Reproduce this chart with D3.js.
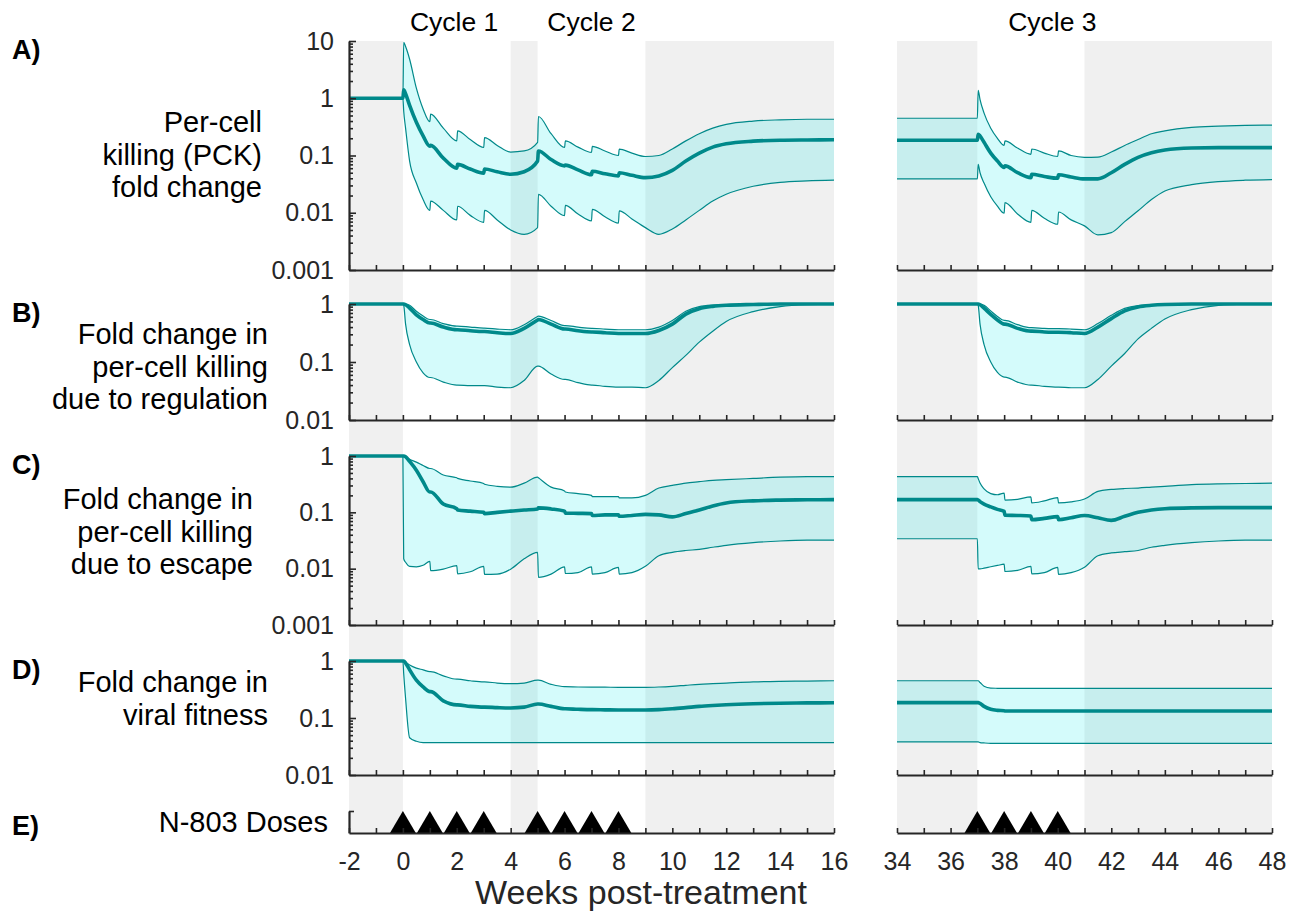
<!DOCTYPE html>
<html>
<head>
<meta charset="utf-8">
<title>Per-cell killing fold change</title>
<script src="https://d3js.org/d3.v7.min.js"></script>
<style>
  body { margin: 0; background: #fff; }
  text { font-family: "Liberation Sans", Arial, sans-serif; }
</style>
</head>
<body>
<div id="chart"></div>
<script>
// time grids (weeks post-treatment); the 0.03 steps mark dose jumps
const weeksL = [-2, 0, 0.03, 0.1, 0.25, 0.5, 0.75, 1, 1.03, 1.5, 2, 2.03, 2.5, 3, 3.03, 3.5, 4, 4.5, 5, 5.03,
  5.5, 6, 6.03, 6.5, 7, 7.03, 7.5, 8, 8.03, 8.5, 9, 9.5, 10, 10.5, 11, 11.5, 12, 13, 14, 15, 16];
const weeksR = [34, 37, 37.03, 37.1, 37.25, 37.5, 37.75, 38, 38.03, 38.5, 39, 39.03, 39.5, 40, 40.03, 40.5,
  41, 41.5, 42, 42.5, 43, 43.5, 44, 45, 46, 47, 48];

// A) per-cell killing fold change
const pckMedL = [1, 1, 1.4, 1.2, 0.75, 0.38, 0.22, 0.145, 0.15, 0.09, 0.06, 0.07, 0.058, 0.049, 0.058, 0.052, 0.047, 0.052, 0.08, 0.12,
  0.085, 0.066, 0.068, 0.056, 0.046, 0.053, 0.048, 0.044, 0.05, 0.045, 0.041, 0.044, 0.055, 0.08, 0.11, 0.14, 0.16, 0.178, 0.185, 0.187, 0.188];
const pckHiL = [1, 1, 9.5, 8, 4.8, 1.5, 0.65, 0.39, 0.53, 0.3, 0.18, 0.27, 0.19, 0.138, 0.206, 0.15, 0.115, 0.12, 0.17, 0.48,
  0.24, 0.138, 0.18, 0.14, 0.113, 0.144, 0.12, 0.1, 0.129, 0.11, 0.096, 0.1, 0.13, 0.18, 0.24, 0.3, 0.35, 0.4, 0.42, 0.43, 0.43];
const pckLoL = [1, 1, 0.6, 0.3, 0.08, 0.033, 0.017, 0.011, 0.016, 0.011, 0.0075, 0.013, 0.009, 0.0068, 0.011, 0.0075, 0.005, 0.0042, 0.0055, 0.021,
  0.013, 0.0089, 0.0135, 0.0095, 0.0072, 0.0115, 0.0085, 0.0066, 0.0108, 0.0078, 0.0055, 0.0042, 0.0052, 0.0075, 0.011, 0.016, 0.021, 0.029, 0.034, 0.036, 0.037];
const pckMedR = [0.185, 0.185, 0.235, 0.22, 0.17, 0.11, 0.08, 0.062, 0.066, 0.05, 0.041, 0.047, 0.043, 0.04, 0.046, 0.042,
  0.039, 0.039, 0.05, 0.07, 0.093, 0.112, 0.125, 0.135, 0.137, 0.137, 0.137];
const pckHiR = [0.447, 0.447, 1.38, 0.95, 0.55, 0.3, 0.2, 0.15, 0.18, 0.135, 0.105, 0.13, 0.11, 0.096, 0.12, 0.1,
  0.093, 0.094, 0.115, 0.15, 0.19, 0.24, 0.27, 0.31, 0.325, 0.335, 0.34];
const pckLoR = [0.039, 0.039, 0.07, 0.05, 0.033, 0.019, 0.013, 0.0098, 0.015, 0.0095, 0.0068, 0.011, 0.008, 0.0063, 0.0103, 0.0075,
  0.0059, 0.0041, 0.0045, 0.007, 0.0108, 0.017, 0.024, 0.031, 0.035, 0.037, 0.038];

// B) fold change in per-cell killing due to regulation
const regMedL = [1, 1, 1, 0.97, 0.85, 0.65, 0.54, 0.47, 0.47, 0.4, 0.36, 0.36, 0.345, 0.335, 0.335, 0.32, 0.31, 0.38, 0.53, 0.54,
  0.45, 0.37, 0.37, 0.345, 0.33, 0.33, 0.32, 0.31, 0.31, 0.31, 0.31, 0.35, 0.45, 0.67, 0.83, 0.91, 0.95, 0.98, 1, 1, 1];
const regHiL = [1, 1, 1, 1, 0.95, 0.75, 0.62, 0.54, 0.54, 0.46, 0.415, 0.415, 0.4, 0.385, 0.385, 0.37, 0.36, 0.44, 0.61, 0.62,
  0.52, 0.425, 0.425, 0.4, 0.38, 0.38, 0.37, 0.36, 0.36, 0.36, 0.36, 0.4, 0.52, 0.75, 0.9, 0.96, 0.98, 0.99, 1, 1, 1];
const regLoL = [1, 1, 0.95, 0.45, 0.2, 0.1, 0.065, 0.054, 0.054, 0.045, 0.04, 0.04, 0.039, 0.039, 0.039, 0.037, 0.036, 0.048, 0.085, 0.085,
  0.062, 0.05, 0.05, 0.044, 0.04, 0.04, 0.038, 0.037, 0.037, 0.037, 0.036, 0.048, 0.08, 0.13, 0.22, 0.34, 0.5, 0.74, 0.9, 0.97, 0.99];
const regMedR = [1, 1, 1, 0.97, 0.85, 0.66, 0.53, 0.45, 0.45, 0.38, 0.34, 0.34, 0.33, 0.325, 0.325, 0.32,
  0.31, 0.4, 0.56, 0.76, 0.89, 0.95, 0.98, 1, 1, 1, 1];
const regHiR = [1, 1, 1, 1, 0.95, 0.76, 0.61, 0.52, 0.52, 0.44, 0.39, 0.39, 0.38, 0.375, 0.375, 0.37,
  0.36, 0.46, 0.64, 0.84, 0.94, 0.97, 0.99, 1, 1, 1, 1];
const regLoR = [1, 1, 0.95, 0.45, 0.2, 0.1, 0.066, 0.055, 0.055, 0.045, 0.04, 0.04, 0.038, 0.037, 0.037, 0.036,
  0.036, 0.05, 0.085, 0.14, 0.25, 0.38, 0.55, 0.8, 0.95, 0.99, 1];

// C) fold change in per-cell killing due to escape
const escMedL = [1, 1, 1, 0.97, 0.8, 0.56, 0.35, 0.23, 0.23, 0.14, 0.116, 0.11, 0.105, 0.1, 0.095, 0.1, 0.105, 0.11, 0.115, 0.12,
  0.115, 0.105, 0.097, 0.096, 0.095, 0.088, 0.09, 0.09, 0.085, 0.088, 0.092, 0.09, 0.083, 0.095, 0.11, 0.13, 0.147, 0.16, 0.165, 0.167, 0.168];
const escHiL = [1, 1, 1, 0.95, 0.87, 0.78, 0.68, 0.6, 0.6, 0.46, 0.41, 0.4, 0.36, 0.325, 0.315, 0.29, 0.28, 0.33, 0.42, 0.41,
  0.28, 0.24, 0.23, 0.215, 0.2, 0.19, 0.19, 0.19, 0.18, 0.18, 0.2, 0.27, 0.3, 0.33, 0.35, 0.37, 0.38, 0.4, 0.42, 0.43, 0.43];
const escLoL = [1, 1, 0.015, 0.013, 0.011, 0.0108, 0.0115, 0.0135, 0.0092, 0.0098, 0.0113, 0.0081, 0.0088, 0.011, 0.0079, 0.008, 0.0098, 0.015, 0.0195, 0.007,
  0.008, 0.0108, 0.0082, 0.0085, 0.0108, 0.008, 0.0085, 0.0105, 0.008, 0.0085, 0.011, 0.017, 0.0195, 0.021, 0.022, 0.024, 0.026, 0.029, 0.031, 0.032, 0.032];
const escMedR = [0.168, 0.168, 0.165, 0.155, 0.14, 0.125, 0.113, 0.104, 0.089, 0.088, 0.086, 0.074, 0.078, 0.084, 0.074, 0.08,
  0.088, 0.08, 0.072, 0.085, 0.1, 0.11, 0.116, 0.12, 0.121, 0.121, 0.121];
const escHiR = [0.43, 0.43, 0.4, 0.33, 0.26, 0.215, 0.205, 0.22, 0.165, 0.17, 0.188, 0.147, 0.16, 0.183, 0.147, 0.153,
  0.172, 0.235, 0.255, 0.265, 0.27, 0.28, 0.29, 0.31, 0.32, 0.325, 0.33];
const escLoR = [0.034, 0.034, 0.0099, 0.0099, 0.0102, 0.0108, 0.0114, 0.012, 0.0089, 0.0093, 0.011, 0.0081, 0.0085, 0.0105, 0.0079, 0.0085,
  0.0106, 0.017, 0.019, 0.02, 0.021, 0.024, 0.026, 0.029, 0.031, 0.032, 0.032];

// D) fold change in viral fitness
const fitMedL = [1, 1, 1, 0.92, 0.7, 0.46, 0.35, 0.29, 0.29, 0.2, 0.17, 0.17, 0.16, 0.155, 0.155, 0.152, 0.15, 0.155, 0.176, 0.176,
  0.16, 0.145, 0.145, 0.142, 0.14, 0.14, 0.139, 0.138, 0.138, 0.138, 0.138, 0.14, 0.145, 0.152, 0.16, 0.166, 0.171, 0.178, 0.182, 0.184, 0.185];
const fitHiL = [1, 1, 1, 0.95, 0.85, 0.75, 0.7, 0.65, 0.65, 0.55, 0.48, 0.48, 0.45, 0.43, 0.43, 0.41, 0.4, 0.41, 0.46, 0.46,
  0.39, 0.355, 0.355, 0.35, 0.348, 0.348, 0.347, 0.345, 0.345, 0.345, 0.345, 0.35, 0.36, 0.375, 0.39, 0.4, 0.41, 0.43, 0.44, 0.445, 0.45];
const fitLoL = [1, 1, 0.6, 0.22, 0.045, 0.039, 0.037, 0.037, 0.037, 0.037, 0.037, 0.037, 0.037, 0.037, 0.037, 0.037, 0.037, 0.037, 0.037, 0.037,
  0.037, 0.037, 0.037, 0.037, 0.037, 0.037, 0.037, 0.037, 0.037, 0.037, 0.037, 0.037, 0.037, 0.037, 0.037, 0.037, 0.037, 0.037, 0.037, 0.037, 0.037];
const fitMedR = [0.186, 0.186, 0.186, 0.18, 0.16, 0.142, 0.136, 0.134, 0.133, 0.133, 0.133, 0.133, 0.133, 0.133, 0.133, 0.133,
  0.133, 0.133, 0.133, 0.133, 0.133, 0.133, 0.133, 0.133, 0.133, 0.133, 0.133];
const fitHiR = [0.45, 0.45, 0.45, 0.42, 0.36, 0.335, 0.332, 0.33, 0.33, 0.33, 0.33, 0.33, 0.33, 0.33, 0.33, 0.33,
  0.33, 0.33, 0.33, 0.33, 0.33, 0.33, 0.33, 0.33, 0.33, 0.33, 0.33];
const fitLoR = [0.038, 0.038, 0.038, 0.037, 0.0365, 0.036, 0.036, 0.036, 0.036, 0.036, 0.036, 0.036, 0.036, 0.036, 0.036, 0.036,
  0.036, 0.036, 0.036, 0.036, 0.036, 0.036, 0.036, 0.036, 0.036, 0.036, 0.036];

// E) N-803 doses and the off-treatment (shaded) periods
const dosesL = [0, 1, 2, 3, 5, 6, 7, 8];
const dosesR = [37, 38, 39, 40];
const shadeL = [[-2, 0], [4, 5], [9, 16]];
const shadeR = [[34, 37], [41, 48]];
const cycles = [{name: "Cycle 1", week: 1.9}, {name: "Cycle 2", week: 7}, {name: "Cycle 3", week: 39.8}];

const ticksA = [0.001, 0.01, 0.1, 1, 10];
const ticksB = [0.01, 0.1, 1];
const ticksC = [0.001, 0.01, 0.1, 1];
const ticksD = [0.01, 0.1, 1];
const xTicksL = d3.range(-2, 17);
const xTicksR = d3.range(34, 49);

const W = 1307, H = 911;
const teal = "#00898a", axisCol = "#262626";
const yTop = 41, yBottom = 833;
const labelSize = 29;

const svg = d3.select("#chart").append("svg")
    .attr("width", W)
    .attr("height", H);

const xL = d3.scaleLinear().domain([-2, 16]).range([349, 834]);
const xR = d3.scaleLinear().domain([34, 48]).range([897, 1272]);

// grey off-treatment bands
svg.append("g").selectAll("rect")
    .data(shadeL.map(d => ({d: d, x: xL})).concat(shadeR.map(d => ({d: d, x: xR}))))
    .enter().append("rect")
    .attr("x", d => d.x(d.d[0]))
    .attr("width", d => d.x(d.d[1]) - d.x(d.d[0]))
    .attr("y", yTop)
    .attr("height", yBottom - yTop)
    .attr("fill", "#f0f0f0");

const panels = [
  {tag: "A)", domain: [0.001, 10], range: [270, 41], ticks: ticksA,
   L: [pckLoL, pckMedL, pckHiL], R: [pckLoR, pckMedR, pckHiR],
   label: ["Per-cell", "killing (PCK)", "fold change"], lx: 262, ly: 132, tagY: 59},
  {tag: "B)", domain: [0.01, 1], range: [420, 304], ticks: ticksB,
   L: [regLoL, regMedL, regHiL], R: [regLoR, regMedR, regHiR],
   label: ["Fold change in", "per-cell killing", "due to regulation"], lx: 268, ly: 344, tagY: 322},
  {tag: "C)", domain: [0.001, 1], range: [625, 456], ticks: ticksC,
   L: [escLoL, escMedL, escHiL], R: [escLoR, escMedR, escHiR],
   label: ["Fold change in", "per-cell killing", "due to escape"], lx: 253, ly: 509, tagY: 474},
  {tag: "D)", domain: [0.01, 1], range: [775, 661], ticks: ticksD,
   L: [fitLoL, fitMedL, fitHiL], R: [fitLoR, fitMedR, fitHiR],
   label: ["Fold change in", "viral fitness"], lx: 268, ly: 692, tagY: 679}
];

function fmt(v) {
  return v >= 1 ? String(v) : v.toFixed(Math.round(-Math.log10(v)));
}

panels.forEach(p => {
  const y = d3.scaleLog().domain(p.domain).range(p.range);
  const g = svg.append("g");

  [[weeksL, p.L, xL], [weeksR, p.R, xR]].forEach(([weeks, s, x]) => {
    const rows = weeks.map((w, i) => ({w: w, lo: s[0][i], med: s[1][i], hi: s[2][i]}));
    const area = d3.area().curve(d3.curveMonotoneX)
        .x(d => x(d.w)).y0(d => y(d.lo)).y1(d => y(d.hi));
    g.append("path").datum(rows)
        .attr("d", area)
        .attr("fill", "rgb(0,230,230)")
        .attr("fill-opacity", 0.17);
    ["lo", "hi"].forEach(k => {
      g.append("path").datum(rows)
          .attr("d", d3.line().curve(d3.curveMonotoneX).x(d => x(d.w)).y(d => y(d[k])))
          .attr("fill", "none")
          .attr("stroke", teal)
          .attr("stroke-width", 1.2);
    });
    g.append("path").datum(rows)
        .attr("d", d3.line().curve(d3.curveMonotoneX).x(d => x(d.w)).y(d => y(d.med)))
        .attr("fill", "none")
        .attr("stroke", teal)
        .attr("stroke-width", 3.6)
        .attr("stroke-linejoin", "round");
  });

  // y axis, major and minor ticks pointing inwards
  const yAx = g.append("g")
      .attr("transform", "translate(" + xL.range()[0] + ",0)")
      .call(d3.axisLeft(y).tickValues(p.ticks).tickFormat(fmt).tickSize(-7).tickSizeOuter(0).tickPadding(15));
  g.append("g")
      .attr("transform", "translate(" + xL.range()[0] + ",0)")
      .call(d3.axisLeft(y).tickValues(y.ticks().filter(t => p.ticks.indexOf(t) < 0)).tickFormat("").tickSize(-4))
      .call(a => a.select(".domain").remove());
  yAx.selectAll("text").attr("font-size", 25).attr("fill", axisCol);

  // x axes at the foot of each panel
  g.append("g")
      .attr("transform", "translate(0," + p.range[0] + ")")
      .call(d3.axisBottom(xL).tickValues(xTicksL).tickFormat("").tickSize(-5).tickSizeOuter(0));
  g.append("g")
      .attr("transform", "translate(0," + p.range[0] + ")")
      .call(d3.axisBottom(xR).tickValues(xTicksR).tickFormat("").tickSize(-5).tickSizeOuter(0));

  g.append("text")
      .attr("x", 12).attr("y", p.tagY)
      .attr("font-size", 27).attr("font-weight", "bold")
      .text(p.tag);
  g.append("text")
      .attr("text-anchor", "end")
      .attr("font-size", labelSize)
      .selectAll("tspan")
      .data(p.label)
      .enter().append("tspan")
      .attr("x", p.lx)
      .attr("y", (d, i) => p.ly + i * 32.5)
      .text(d => d);
});

// E) dose markers
const yE = d3.scaleLinear().domain([0, 1]).range([833, 811]);
const gE = svg.append("g");
gE.selectAll("path.dose")
    .data(dosesL.map(d => ({w: d, x: xL})).concat(dosesR.map(d => ({w: d, x: xR}))))
    .enter().append("path")
    .attr("class", "dose")
    .attr("d", d => "M" + d.x(d.w - 0.48) + "," + yE(0) + "L" + d.x(d.w) + "," + yE(1) +
        "L" + d.x(d.w + 0.48) + "," + yE(0) + "Z")
    .attr("fill", "#000");

gE.append("g")
    .attr("transform", "translate(" + xL.range()[0] + ",0)")
    .call(d3.axisLeft(yE).tickValues([1]).tickFormat("").tickSize(-5).tickSizeOuter(0));
const evenFmt = d => (d % 2 === 0 ? String(d) : "");
gE.append("g")
    .attr("transform", "translate(0,833)")
    .call(d3.axisBottom(xL).tickValues(xTicksL).tickFormat(evenFmt).tickSize(-5).tickSizeOuter(0).tickPadding(19));
gE.append("g")
    .attr("transform", "translate(0,833)")
    .call(d3.axisBottom(xR).tickValues(xTicksR).tickFormat(evenFmt).tickSize(-5).tickSizeOuter(0).tickPadding(19));

gE.append("text").attr("x", 12).attr("y", 835)
    .attr("font-size", 27).attr("font-weight", "bold").text("E)");
gE.append("text").attr("x", 328).attr("y", 832)
    .attr("text-anchor", "end").attr("font-size", labelSize).text("N-803 Doses");

// styling of every axis
svg.selectAll(".domain").attr("stroke", axisCol).attr("stroke-width", 2.2);
svg.selectAll(".tick line").attr("stroke", axisCol).attr("stroke-width", 1.6);
gE.selectAll(".tick text").attr("font-size", 25).attr("fill", axisCol);
svg.selectAll(".tick text").attr("font-family", "Liberation Sans, Arial, sans-serif");

// cycle titles and x label
svg.append("g").selectAll("text")
    .data(cycles)
    .enter().append("text")
    .attr("x", d => (d.week < 20 ? xL(d.week) : xR(d.week)))
    .attr("y", 31)
    .attr("text-anchor", "middle")
    .attr("font-size", 26.5)
    .text(d => d.name);

svg.append("text")
    .attr("x", 641).attr("y", 904)
    .attr("text-anchor", "middle")
    .attr("font-size", 34)
    .attr("fill", axisCol)
    .text("Weeks post-treatment");
</script>
</body>
</html>
